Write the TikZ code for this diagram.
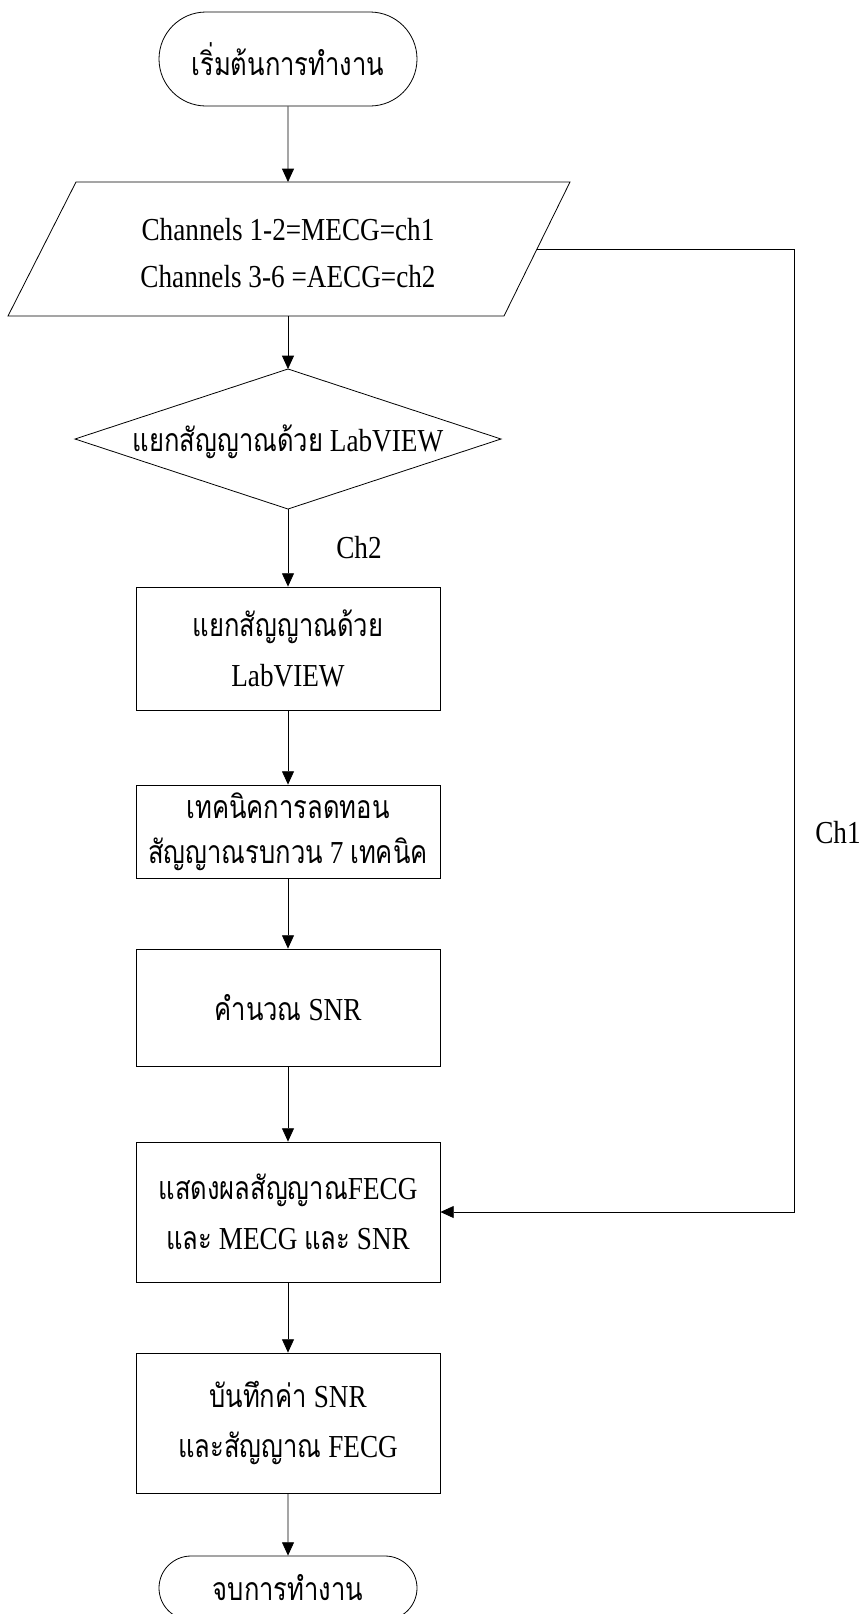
\documentclass[tikz,border=0pt]{standalone}
\usepackage{fontspec}
\setmainfont[FakeStretch=0.85]{Liberation Serif}
\newfontfamily\thaifont[Script=Thai,FakeStretch=0.8]{Loma}
\newcommand{\thtxt}[1]{{\thaifont #1}}
\usetikzlibrary{arrows.meta,shapes.misc}
\tikzset{
  base/.style={font=\fontsize{24}{37}\selectfont},
  procbox/.style={base,draw,line width=0.6pt,minimum width=304*0.75pt,align=center,inner sep=0pt},
  termbox/.style={base,draw,line width=0.6pt,rounded rectangle,minimum width=258*0.75pt,inner sep=0pt},
  arr/.style={line width=0.6pt,-{Triangle[length=10pt,width=9pt]}},
  lbl/.style={base,inner sep=0pt}
}
\begin{document}
\begin{tikzpicture}[x=0.75pt,y=-0.75pt]
\useasboundingbox (0,0) rectangle (861,1614);
% start
\node[termbox,minimum height=94*0.75pt] (start) at (288,59) {\thtxt{เริ่มต้นการทำงาน}};
% parallelogram
\coordinate (p1) at (76,182);
\coordinate (p2) at (570,182);
\coordinate (p3) at (504,316);
\coordinate (p4) at (8,316);
\draw[line width=0.6pt] (p1) -- (p2) -- (p3) -- (p4) -- cycle;
\coordinate (paratop) at (288,182);
\coordinate (parabot) at (288,316);
\node[lbl,align=center,font=\fontsize{24}{35}\selectfont] (para) at (288,253) {Channels 1-2=MECG=ch1\\Channels 3-6 =AECG=ch2};
% decision
\coordinate (dtop) at (288,369);
\coordinate (dright) at (501,439);
\coordinate (dbot) at (288,509);
\coordinate (dleft) at (75,439);
\draw[line width=0.6pt] (dtop) -- (dright) -- (dbot) -- (dleft) -- cycle;
\node[lbl] (dec) at (288,442) {\thtxt{แยกสัญญาณด้วย} LabVIEW};
% boxes
\node[procbox,minimum height=123*0.75pt] (b1) at (288,648.5) {\thtxt{แยกสัญญาณด้วย}\\LabVIEW};
\node[procbox,minimum height=93*0.75pt,font=\fontsize{24}{34}\selectfont] (b2) at (288,831.5) {\thtxt{เทคนิคการลดทอน}\\\thtxt{สัญญาณรบกวน} 7 \thtxt{เทคนิค}};
\node[procbox,minimum height=117*0.75pt] (b3) at (288,1007.5) {\thtxt{คำนวณ} SNR};
\node[procbox,minimum height=140*0.75pt] (b4) at (288,1212) {\thtxt{แสดงผลสัญญาณ}FECG\\\thtxt{และ} MECG \thtxt{และ} SNR};
\node[procbox,minimum height=140*0.75pt] (b5) at (288,1423) {\thtxt{บันทึกค่า} SNR\\\thtxt{และสัญญาณ} FECG};
\node[termbox,minimum height=64*0.75pt] (end) at (288,1588) {\thtxt{จบการทำงาน}};
% labels
\node[lbl] (ch2) at (359,548) {Ch2};
\node[lbl] (ch1) at (838,833) {Ch1};
% connectors
\draw[arr] (start) -- (paratop);
\draw[arr] (parabot) -- (dtop);
\draw[arr] (dbot) -- (b1);
\draw[arr] (b1) -- (b2);
\draw[arr] (b2) -- (b3);
\draw[arr] (b3) -- (b4);
\draw[arr] (b4) -- (b5);
\draw[arr] (b5) -- (end);
\coordinate (ch1start) at (537,249);
\coordinate (ch1corner) at (794,249);
\draw[arr] (ch1start) -- (ch1corner) |- (b4.east);
\end{tikzpicture}
\end{document}
